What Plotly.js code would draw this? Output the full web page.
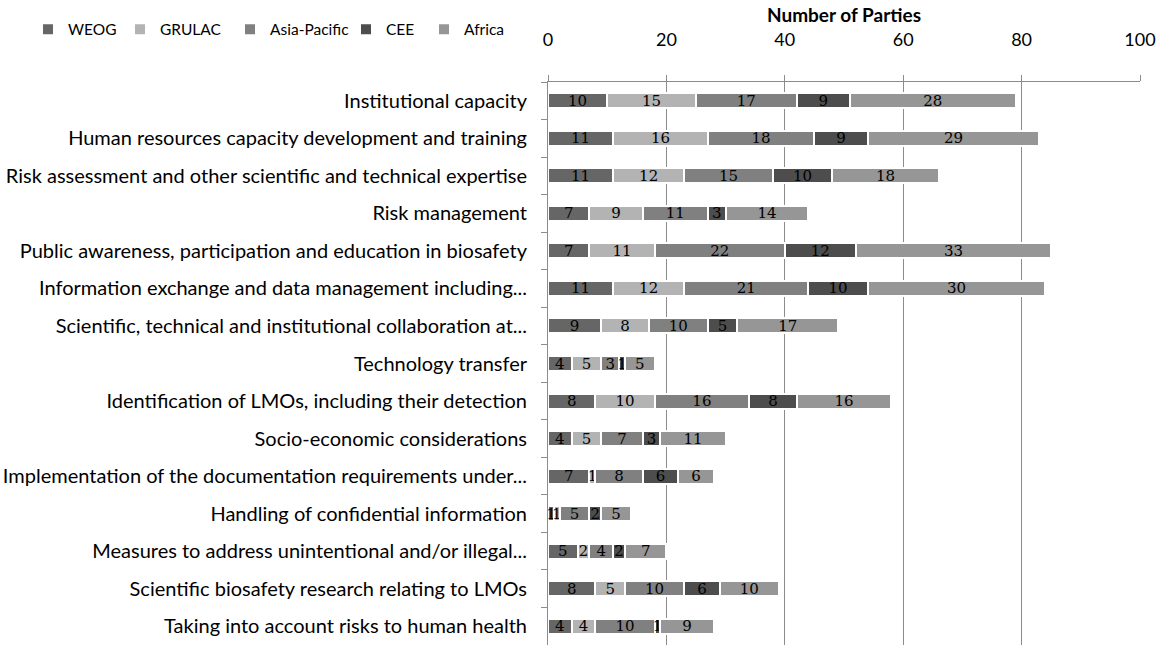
<!DOCTYPE html>
<html>
<head>
<meta charset="utf-8">
<script src="https://cdn.plot.ly/plotly-3.0.1.min.js"></script>
<style>html,body{margin:0;padding:0;background:#fff;}#chart{width:1159px;height:645px;}</style>
</head>
<body>
<div id="chart"></div>
<script>
const categories = [
  "Institutional capacity",
  "Human resources capacity development and training",
  "Risk assessment and other scientific and technical expertise",
  "Risk management",
  "Public awareness, participation and education in biosafety",
  "Information exchange and data management including...",
  "Scientific, technical and institutional collaboration at...",
  "Technology transfer",
  "Identification of LMOs, including their detection",
  "Socio-economic considerations",
  "Implementation of the documentation requirements under...",
  "Handling of confidential information",
  "Measures to address unintentional and/or illegal...",
  "Scientific biosafety research relating to LMOs",
  "Taking into account risks to human health"
];
const WEOG        = [10, 11, 11, 7, 7, 11, 9, 4, 8, 4, 7, 1, 5, 8, 4];
const GRULAC      = [15, 16, 12, 9, 11, 12, 8, 5, 10, 5, 1, 1, 2, 5, 4];
const AsiaPacific = [17, 18, 15, 11, 22, 21, 10, 3, 16, 7, 8, 5, 4, 10, 10];
const CEE         = [9, 9, 10, 3, 12, 10, 5, 1, 8, 3, 6, 2, 2, 6, 1];
const Africa      = [28, 29, 18, 14, 33, 30, 17, 5, 16, 11, 6, 5, 7, 10, 9];
const seriesNames = ["WEOG", "GRULAC", "Asia-Pacific", "CEE", "Africa"];
const seriesValues = [WEOG, GRULAC, AsiaPacific, CEE, Africa];
const seriesColors = ["#666666", "#b3b3b3", "#808080", "#4d4d4d", "#969696"];

const legendIds = ["legend", "legend2", "legend3", "legend4", "legend5"];
const legendLeftPx = [28, 120, 230, 346, 424];

const marginL = 548, marginR = 19, W = 1159;
const plotW = W - marginL - marginR;

const traces = seriesNames.map((name, i) => ({
  type: "bar",
  orientation: "h",
  name: name,
  legend: legendIds[i],
  y: categories,
  x: seriesValues[i],
  text: seriesValues[i].map(String),
  textposition: "inside",
  insidetextanchor: "middle",
  textangle: 0,
  constraintext: "none",
  textfont: {family: "DejaVu Serif", size: 15, color: "#000000"},
  marker: {color: seriesColors[i], line: {color: "#ffffff", width: 2}},
  hoverinfo: "x+name"
}));

const layout = {
  width: W, height: 645,
  margin: {l: marginL, r: marginR, t: 82, b: 0},
  barmode: "stack",
  bargap: 0.6,
  paper_bgcolor: "#ffffff",
  plot_bgcolor: "#ffffff",
  font: {family: "Lato, 'Open Sans', sans-serif", size: 16, color: "#000000"},
  xaxis: {
    side: "top",
    range: [0, 100],
    dtick: 20,
    tick0: 0,
    showgrid: true,
    gridcolor: "#8c8c8c",
    gridwidth: 1,
    showline: true,
    linecolor: "#8c8c8c",
    linewidth: 1,
    ticks: "outside",
    ticklen: 6,
    tickcolor: "#8c8c8c",
    zeroline: false,
    ticklabelstandoff: 22,
    tickfont: {family: "Lato, sans-serif", size: 18, color: "#000000"},
    title: {text: "<b>Number of Parties</b>", font: {family: "Lato, sans-serif", size: 19, color: "#000000"}, standoff: 0}
  },
  yaxis: {
    autorange: "reversed",
    showline: true,
    linecolor: "#8c8c8c",
    linewidth: 1,
    ticks: "outside",
    tickson: "boundaries",
    ticklen: 6,
    tickcolor: "#8c8c8c",
    showgrid: false,
    ticklabelstandoff: 16,
    tickfont: {family: "Lato, sans-serif", size: 20, color: "#000000"}
  },
  showlegend: true
};

legendIds.forEach((id, i) => {
  layout[id] = {
    orientation: "h",
    x: (legendLeftPx[i] - marginL) / plotW, xanchor: "left",
    y: 1.093, yanchor: "middle",
    font: {family: "Lato, sans-serif", size: 15.5, color: "#000000"},
    itemwidth: 30,
    bgcolor: "rgba(0,0,0,0)"
  };
});

Plotly.newPlot("chart", traces, layout, {displayModeBar: false, staticPlot: true});
</script>
</body>
</html>
